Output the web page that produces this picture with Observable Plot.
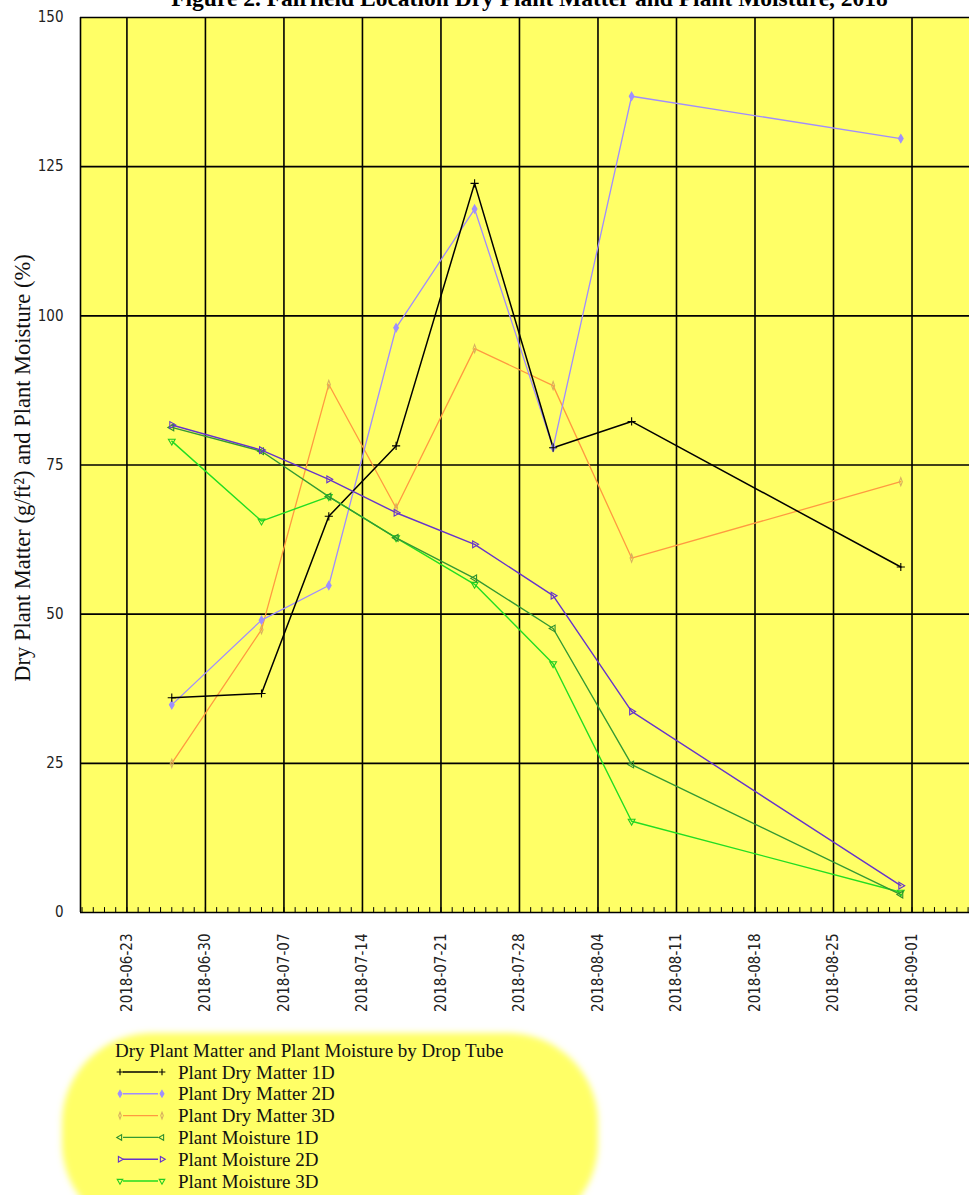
<!DOCTYPE html>
<html><head><meta charset="utf-8">
<script src="https://cdn.jsdelivr.net/npm/d3@7"></script>
<script src="https://cdn.jsdelivr.net/npm/@observablehq/plot@0.6"></script>
<style>
body{margin:0;background:#fff;}
#wrap{position:relative;width:969px;height:1195px;overflow:hidden;}
#chart{position:absolute;left:0;top:0;}
#legend{position:absolute;left:0;top:1025px;}
</style></head><body>
<div id="wrap"><div id="chart"></div><svg id="legend" width="969" height="170"></svg></div>
<script>
const titleText = "Figure 2. Fairfield Location Dry Plant Matter and Plant Moisture, 2018";
const yLabel = "Dry Plant Matter (g/ft²) and Plant Moisture (%)";
const legendTitle = "Dry Plant Matter and Plant Moisture by Drop Tube";

const sampleDates = ["2018-06-27","2018-07-05","2018-07-11","2018-07-17","2018-07-24","2018-07-31","2018-08-07","2018-08-31"];
const seriesNames = ["Plant Dry Matter 1D","Plant Dry Matter 2D","Plant Dry Matter 3D","Plant Moisture 1D","Plant Moisture 2D","Plant Moisture 3D"];
const dryMatter1D = [36.0, 36.7, 66.4, 78.2, 122.2, 77.9, 82.3, 57.9];
const dryMatter2D = [34.8, 49.0, 54.8, 98.0, 117.9, 77.9, 136.8, 129.7];
const dryMatter3D = [25.0, 47.4, 88.5, 67.8, 94.5, 88.3, 59.4, 72.2];
const moisture1D  = [81.3, 77.3, 69.7, 62.8, 56.0, 47.6, 24.8, 3.0];
const moisture2D  = [81.7, 77.5, 72.6, 67.0, 61.7, 53.1, 33.7, 4.5];
const moisture3D  = [79.0, 65.6, 69.7, 62.8, 55.0, 41.7, 15.3, 3.4];

const lineColors   = ["#000000","#a08cff","#ff9a40","#339933","#6633cc","#22dd22"];
const markerColors = ["#000000","#9f8fff","#d8b060","#2f8f2f","#6633cc","#22cc22"];

const xTickLabels = ["2018-06-23","2018-06-30","2018-07-07","2018-07-14","2018-07-21","2018-07-28","2018-08-04","2018-08-11","2018-08-18","2018-08-25","2018-09-01"];
const yTickValues = [0, 25, 50, 75, 100, 125, 150];
const xDomainEnds = ["2018-06-18T20:40Z","2018-09-06T03:00Z"];

// symbols
function tri(angle){
  return {draw(ctx, size){
    const r = Math.sqrt(size/Math.PI)*1.15;
    for (let i=0;i<3;i++){
      const a = (angle + i*120)*Math.PI/180;
      const px = r*Math.sin(a), py = -r*Math.cos(a);
      if (i) ctx.lineTo(px,py); else ctx.moveTo(px,py);
    }
    ctx.closePath();
  }};
}
const plusSym = {draw(ctx,size){const r=Math.sqrt(size/Math.PI)*1.2; ctx.moveTo(-r,0);ctx.lineTo(r,0);ctx.moveTo(0,-r);ctx.lineTo(0,r);}};
const diamondSym = {draw(ctx,size){const r=Math.sqrt(size/Math.PI); ctx.moveTo(0,-r*1.2);ctx.lineTo(r*0.7,0);ctx.lineTo(0,r*1.2);ctx.lineTo(-r*0.7,0);ctx.closePath();}};
const thinSym = {draw(ctx,size){const r=Math.sqrt(size/Math.PI); ctx.moveTo(0,-r*1.2);ctx.lineTo(r*0.45,0);ctx.lineTo(0,r*1.2);ctx.lineTo(-r*0.45,0);ctx.closePath();}};
const symbols = [plusSym, diamondSym, thinSym, tri(270), tri(90), tri(180)];
const symFill = [false, true, false, false, false, false];
const lineWidths = [1.5, 1.3, 1.3, 1.4, 1.4, 1.4];

const parse = d3.utcParse("%Y-%m-%d");
const dates = sampleDates.map(parse);
const allValues = [dryMatter1D, dryMatter2D, dryMatter3D, moisture1D, moisture2D, moisture3D];
const rows = [];
allValues.forEach((vals, i) => vals.forEach((v, j) => rows.push({series: seriesNames[i], idx: i, date: dates[j], value: v})));

const xTicks = xTickLabels.map(parse);
const xDomain = xDomainEnds.map(s => new Date(s));
const days = d3.utcDay.range(d3.utcDay.ceil(xDomain[0]), xDomain[1]);

const tickShape = {draw(ctx, l){ ctx.moveTo(0,0); ctx.lineTo(0,-l); }};

const drawOrder = [2, 1, 0, 5, 3, 4];
const seriesMarks = [];
for (const i of drawOrder) {
  const data = rows.filter(d => d.idx === i);
  seriesMarks.push(Plot.line(data, {x: "date", y: "value", stroke: lineColors[i], strokeWidth: lineWidths[i]}));
}
for (const i of drawOrder) {
  const data = rows.filter(d => d.idx === i);
  seriesMarks.push(Plot.dot(data, {x: "date", y: "value", symbol: symbols[i], r: 3.4,
    stroke: markerColors[i], fill: symFill[i] ? markerColors[i] : "none", strokeWidth: 1.1}));
}

const chart = Plot.plot({
  width: 969, height: 1030,
  marginLeft: 80, marginRight: 0, marginTop: 17, marginBottom: 118,
  style: {fontFamily: "'DejaVu Sans Condensed','DejaVu Sans',sans-serif", fontSize: "15px", fontStretch: "condensed", background: "transparent", overflow: "visible"},
  x: {type: "utc", domain: xDomain},
  y: {domain: [0, 150]},
  marks: [
    Plot.frame({fill: "#ffff66", stroke: null}),
    Plot.gridX(xTicks, {stroke: "#000", strokeOpacity: 1, strokeWidth: 1.6}),
    Plot.gridY(yTickValues, {stroke: "#000", strokeOpacity: 1, strokeWidth: 1.6}),
    Plot.ruleX([xDomain[0]], {stroke: "#000", strokeWidth: 1.6}),
    Plot.vector(days, {x: d => d, frameAnchor: "bottom", length: 5, anchor: "start", shape: tickShape, stroke: "#000", strokeWidth: 1}),
    Plot.axisX(xTicks, {tickSize: 0, tickPadding: 21, tickRotate: -90, tickFormat: d3.utcFormat("%Y-%m-%d"), label: null, fill: "#222"}),
    Plot.axisY(yTickValues, {tickSize: 0, tickPadding: 17, label: null, fill: "#222"}),
    ...seriesMarks,
    Plot.text([titleText], {frameAnchor: "top", dx: 4.5, dy: -12, lineAnchor: "bottom", fontWeight: "bold", fontFamily: "'Liberation Serif',serif", fontSize: 23.5, fill: "#000"}),
    Plot.text([yLabel], {frameAnchor: "left", textAnchor: "middle", dx: -58, dy: 3, rotate: -90, fontFamily: "'Liberation Serif',serif", fontSize: 22.5, fill: "#111"})
  ]
});
document.getElementById("chart").appendChild(chart);

// legend
const lg = d3.select("#legend");
lg.append("defs").append("filter").attr("id","blur").attr("x","-10%").attr("y","-10%").attr("width","120%").attr("height","120%")
  .append("feGaussianBlur").attr("stdDeviation", 3);
lg.append("rect").attr("x", 62).attr("y", 8).attr("width", 536).attr("height", 200).attr("rx", 90)
  .attr("fill", "#ffff66").attr("filter", "url(#blur)");
lg.append("text").attr("x", 115).attr("y", 32).attr("font-family", "'Liberation Serif',serif").attr("font-size", 19).attr("fill","#111").text(legendTitle);
seriesNames.forEach((name, i) => {
  const cy = 47 + i * 21.8;
  const g = lg.append("g");
  g.append("line").attr("x1", 123).attr("x2", 158).attr("y1", cy).attr("y2", cy).attr("stroke", lineColors[i]).attr("stroke-width", 1.4);
  const path = d3.symbol(symbols[i], Math.PI * 2.8 * 2.8)();
  [120, 162].forEach(px => g.append("path").attr("d", path).attr("transform", `translate(${px},${cy})`)
    .attr("stroke", markerColors[i]).attr("fill", symFill[i] ? markerColors[i] : "none").attr("stroke-width", 1.1));
  g.append("text").attr("x", 178).attr("y", cy + 6.5).attr("font-family", "'Liberation Serif',serif").attr("font-size", 19).attr("fill","#111").text(name);
});
</script>
</body></html>
